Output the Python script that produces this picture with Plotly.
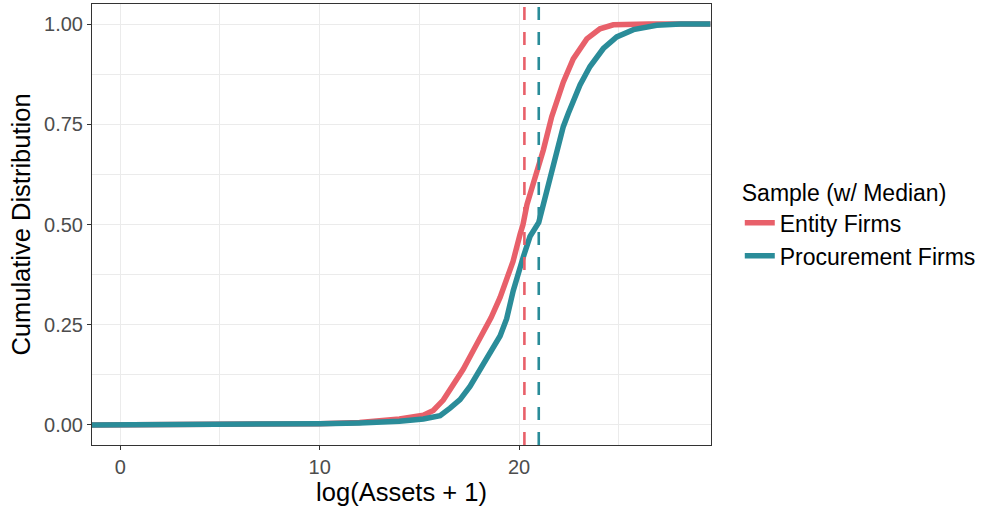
import plotly.graph_objects as go

# ---- data ----
series_names = ["Entity Firms", "Procurement Firms"]

x_entity = [-1.42, 0.0, 0.0, 10.0, 12.0, 13.0, 14.0, 15.2, 15.7, 16.2, 16.7, 17.2,
            17.7, 18.2, 18.6, 19.05, 19.7, 20.05, 20.2, 20.4, 20.89, 21.22, 21.64,
            22.22, 22.72, 23.4, 24.06, 24.73, 26.5, 29.6]
cdf_entity = [0.0, 0.0, 0.002, 0.003, 0.006, 0.010, 0.015, 0.024, 0.036, 0.062, 0.098, 0.139,
              0.185, 0.232, 0.268, 0.318, 0.408, 0.475, 0.50, 0.55, 0.630, 0.686, 0.769,
              0.855, 0.913, 0.963, 0.988, 0.998, 1.0, 1.0]

x_procurement = [-1.42, 0.0, 0.0, 10.0, 12.0, 13.0, 14.0, 15.2, 16.04, 16.54, 17.04, 17.54,
                 17.88, 18.38, 18.88, 19.05, 19.38, 19.71, 20.22, 20.55, 20.99, 21.47, 21.81,
                 22.22, 22.47, 23.06, 23.56, 24.23, 24.9, 25.74, 26.9, 28.1, 29.6]
cdf_procurement = [0.0, 0.0, 0.002, 0.003, 0.005, 0.006, 0.009, 0.015, 0.023, 0.042, 0.063, 0.096,
                   0.124, 0.162, 0.208, 0.222, 0.265, 0.335, 0.420, 0.470, 0.505, 0.603, 0.669,
                   0.744, 0.777, 0.848, 0.894, 0.939, 0.968, 0.986, 0.997, 1.0, 1.0]

medians = [20.27, 20.99]

x_ticks = [0, 10, 20]
y_ticks = [0.0, 0.25, 0.5, 0.75, 1.0]
y_tick_labels = ["0.00", "0.25", "0.50", "0.75", "1.00"]

colors = ["#E8606A", "#2A8C99"]

FONT = "Liberation Sans, Arial, sans-serif"

fig = go.Figure()
for name, xs, ys, col in [
    (series_names[0], x_entity, cdf_entity, colors[0]),
    (series_names[1], x_procurement, cdf_procurement, colors[1]),
]:
    fig.add_trace(go.Scatter(x=xs, y=ys, mode="lines", name=name,
                             line=dict(color=col, width=5.5), hoverinfo="skip"))

for m, col in zip(medians, colors):
    fig.add_vline(x=m, line=dict(color=col, width=2.6, dash="13px,12px"), layer="above")

fig.update_layout(
    width=987, height=508,
    margin=dict(l=92, r=276, t=4, b=63),
    paper_bgcolor="white", plot_bgcolor="white",
    font=dict(family=FONT, color="black"),
    legend=dict(
        title=dict(text="Sample (w/ Median)", font=dict(size=23, color="black")),
        font=dict(size=23, color="black"),
        x=1.0465, xanchor="left", y=0.5, yanchor="middle",
        itemwidth=30,
        bgcolor="rgba(0,0,0,0)",
    ),
    showlegend=True,
)

axis_common = dict(
    showline=True, mirror=True, linecolor="#333333", linewidth=1,
    ticks="outside", ticklen=4, tickcolor="#333333", tickwidth=1,
    tickfont=dict(size=20, color="#4D4D4D", family=FONT),
    gridcolor="#EBEBEB", gridwidth=1.1, zeroline=False,
)

fig.update_xaxes(
    range=[-1.42, 29.63], tickvals=x_ticks, ticktext=[str(t) for t in x_ticks],
    title=dict(text="log(Assets + 1)", font=dict(size=25.5, color="black"), standoff=4),
    minor=dict(dtick=5, tick0=0, showgrid=True, gridcolor="#EBEBEB", gridwidth=0.6, ticks=""),
    **axis_common,
)
fig.update_yaxes(
    range=[-0.05, 1.05], tickvals=y_ticks, ticktext=y_tick_labels,
    title=dict(text="Cumulative Distribution", font=dict(size=25.5, color="black"), standoff=6),
    minor=dict(dtick=0.125, tick0=0, showgrid=True, gridcolor="#EBEBEB", gridwidth=0.6, ticks=""),
    **axis_common,
)

fig.write_html("out.html")
